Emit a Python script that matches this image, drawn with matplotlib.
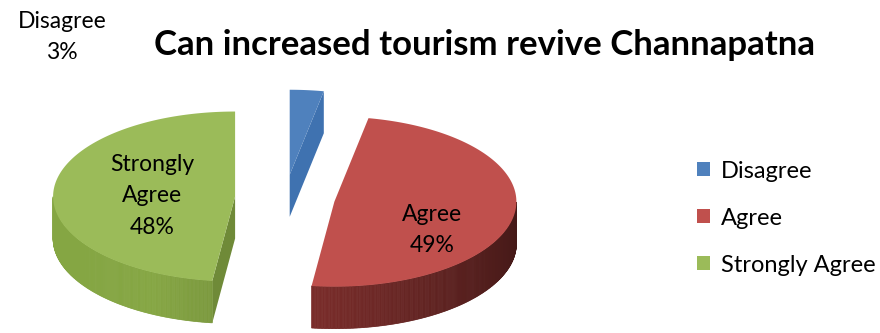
import numpy as np
import matplotlib
matplotlib.use("Agg")
import matplotlib.pyplot as plt
from matplotlib.patches import Polygon, Patch

plt.rcParams['font.family'] = ['Lato', 'DejaVu Sans']

# data
categories = ['Disagree', 'Agree', 'Strongly Agree']
shares = [3, 49, 48]
top_colors = ['#4F81BD', '#C0504D', '#9BBB59']
side_colors = ['#3f72b0', '#6e2826', '#6f8a38']

title = 'Can increased tourism revive Channapatna'

# pie geometry (pixel space, y grows downward)
cx, cy = 285, 198
rx, ry = 182, 85
depth = 42
explode = 50


def pt(theta, ox, oy, drop=0.0):
    return ox + rx * np.cos(theta), oy - ry * np.sin(theta) + drop


def shade(color, f):
    c = np.array(matplotlib.colors.to_rgb(color))
    return tuple(np.clip(c * f, 0, 1))


fig = plt.figure(figsize=(8.8, 3.33), dpi=100)
ax = fig.add_axes([0, 0, 1, 1])
ax.set_xlim(0, 880)
ax.set_ylim(333, 0)
ax.axis('off')

total = float(sum(shares))
start = np.deg2rad(90)
wedges = []
for i, s in enumerate(shares):
    span = 2 * np.pi * s / total
    t1 = start - span
    t2 = start
    mid = (t1 + t2) / 2
    ox = cx + explode * np.cos(mid)
    oy = cy - explode * (ry / rx) * np.sin(mid)
    wedges.append((i, t1, t2, mid, ox, oy))
    start = t1

# draw back wedges first
for i, t1, t2, mid, ox, oy in sorted(wedges, key=lambda w: w[5]):
    # radial sides (visible if facing the viewer)
    for edge, normal in ((t2, t2 + np.pi / 2), (t1, t1 - np.pi / 2)):
        if np.sin(normal) < -1e-6:
            ex, ey = pt(edge, ox, oy)
            quad = [(ox, oy), (ex, ey), (ex, ey + depth), (ox, oy + depth)]
            ax.add_patch(Polygon(quad, closed=True, fc=side_colors[i], ec='none', zorder=2))
    # outer rim, only the front half
    th = np.linspace(t1, t2, 400)
    front = th[np.sin(th) < 0]
    for a, b in zip(front[:-1], front[1:]):
        f = 0.95 + 0.35 * np.cos((a + b) / 2 - np.deg2rad(200))
        f = min(max(f, 0.6), 1.2)
        x1, y1 = pt(a, ox, oy)
        x2, y2 = pt(b, ox, oy)
        quad = [(x1, y1), (x2, y2), (x2, y2 + depth), (x1, y1 + depth)]
        ax.add_patch(Polygon(quad, closed=True, fc=shade(side_colors[i], f),
                             ec=shade(side_colors[i], f), lw=0.5, zorder=2))
    # top face
    xs, ys = pt(th, ox, oy)
    face = [(ox, oy)] + list(zip(xs, ys))
    ax.add_patch(Polygon(face, closed=True, fc=top_colors[i], ec='none', zorder=3))

# data labels
label_pos = [(62, 37), (432, 230), (152, 196)]
for (x, y), name, s in zip(label_pos, categories, shares):
    txt = name.replace('Strongly ', 'Strongly\n') + '\n' + f'{s}%'
    ax.text(x, y, txt, ha='center', va='center', fontsize=16.5,
            linespacing=1.6, color='black', zorder=5)

ax.text(485, 45, title, ha='center', va='center', fontsize=25,
        fontweight='bold', color='black')

handles = [Patch(fc=c, ec='none') for c in top_colors]
fig.legend(handles, categories, loc='center left', bbox_to_anchor=(0.792, 0.345),
           frameon=False, fontsize=17, handlelength=0.55, handleheight=0.55,
           handletextpad=0.45, labelspacing=1.1, borderpad=0, borderaxespad=0)

fig.savefig('out.png', dpi=100)
